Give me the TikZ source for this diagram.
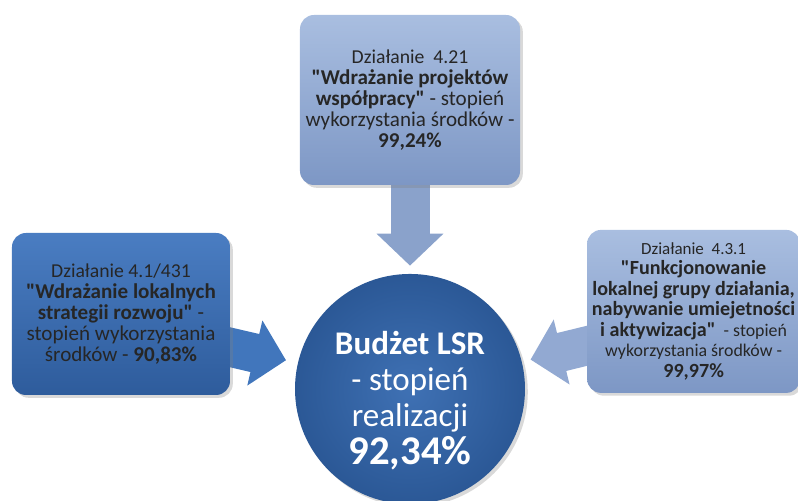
\documentclass[tikz,border=0pt]{standalone}
\usepackage{fontspec}
\setmainfont{Carlito}[Ligatures=TeXOff]
\usetikzlibrary{positioning,arrows.meta,shadows,backgrounds,shapes.geometric}

\definecolor{paleTop}{HTML}{A9BEE0}
\definecolor{paleBot}{HTML}{7D97C5}
\definecolor{darkTop}{HTML}{4A7DC2}
\definecolor{darkBot}{HTML}{2E5C9C}
\definecolor{ringIn}{HTML}{3F71B4}
\definecolor{ringOut}{HTML}{2B5896}
\definecolor{arrowPale}{HTML}{8AA2CB}
\definecolor{arrowDark}{HTML}{4176BC}
\definecolor{arrowSide}{HTML}{92A9D2}

% first line of a box is set a bit smaller, bold lines of the side box a bit larger
\newcommand{\headline}[2]{{\fontsize{#1}{14.9}\selectfont #2}}
\newcommand{\bigbold}[1]{{\fontsize{14.3}{14.6}\selectfont\bfseries #1}}

\begin{document}
\begin{tikzpicture}[node distance=7.225cm, font=\fontsize{15}{14.9}\selectfont] % Carlito has the widths of Calibri
\tikzstyle{box} = [rectangle, rounded corners=0.35cm, align=center, text=black!85, drop shadow={opacity=0.3, shadow xshift=2pt, shadow yshift=-2pt}]
\tikzstyle{palebox} = [box, top color=paleTop, bottom color=paleBot]
\tikzstyle{darkbox} = [box, top color=darkTop, bottom color=darkBot]
\tikzstyle{budget} = [ellipse, inner sep=0pt, minimum width=5.75cm, minimum height=5.35cm, inner color=ringIn, outer color=ringOut, text=white, align=center, font=\fontsize{23.5}{25.6}\selectfont, drop shadow={opacity=0.3, shadow xshift=2pt, shadow yshift=-2pt}]
\tikzstyle{fatarrow} = [line width=0.975cm, -{Triangle[width=1.625cm, length=0.8cm]}]

% page frame, same proportions as the slide
\useasboundingbox (-10.25,9.725) rectangle (9.7,-2.775);

% the budget in the middle (strut on the first line pushes the text a little down)
\node[budget] (Budget) {\rule{0pt}{33pt}\textbf{Budżet LSR}\\ - stopień\\ realizacji\\[2pt] {\fontsize{29}{27}\selectfont\bfseries 92,34\%}};

% the three measures around it
\node[palebox, above of=Budget, minimum width=5.5cm, minimum height=4.25cm] (Cooperation) {\headline{14}{Działanie~~4.21}\\ \textbf{"Wdrażanie projektów}\\ \textbf{współpracy"} - stopień\\ wykorzystania środków -\\ \textbf{99,24\%}};
\node[darkbox, left of=Budget, yshift=1.875cm, minimum width=5.45cm, minimum height=4.05cm] (Strategies) {\headline{14}{Działanie 4.1/431}\\ \textbf{"Wdrażanie lokalnych}\\ \textbf{strategii rozwoju"} -\\ stopień wykorzystania\\ środków - \textbf{90,83\%}};
\node[palebox, right of=Budget, node distance=7.09cm, yshift=1.94cm, minimum width=5.325cm, minimum height=4.075cm, font=\fontsize{12.7}{14.6}\selectfont] (Functioning) {\headline{12.1}{Działanie~~4.3.1}\\ \bigbold{"Funkcjonowanie}\\ \bigbold{lokalnej grupy działania,}\\ \bigbold{nabywanie umiejetności}\\ \bigbold{i aktywizacja"}~ - stopień\\ wykorzystania środków -\\ \bigbold{99,97\%}};

% block arrows, kept behind the boxes
\begin{scope}[on background layer]
\draw[fatarrow, draw=arrowPale, shorten >=0.2cm] ([yshift=0.25cm]Cooperation.south) -- (Budget);
\draw[fatarrow, draw=arrowDark, shorten >=0.3cm] ([xshift=-0.25cm, yshift=-0.775cm]Strategies.east) -- (Budget);
\draw[fatarrow, draw=arrowSide, shorten >=0.22cm] ([xshift=0.25cm, yshift=-0.8cm]Functioning.west) -- (Budget);
\end{scope}

\end{tikzpicture}
\end{document}
